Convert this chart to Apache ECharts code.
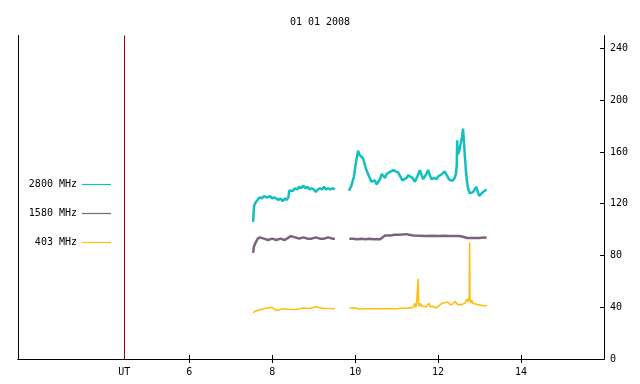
<!DOCTYPE html>
<html>
<head>
<meta charset="utf-8">
<script src="https://cdn.jsdelivr.net/npm/echarts@6/dist/echarts.min.js"></script>
<style>
  html, body { margin: 0; padding: 0; background: #fff; }
  #main { width: 640px; height: 384px; }
</style>
</head>
<body>
<div id="main"></div>
<script>
var FONT = '"DejaVu Sans Mono", monospace';
var UT_MARK = 4.43; // red marker line, labelled UT

var xTicks = [6, 8, 10, 12, 14];
var yTicks = [0, 40, 80, 120, 160, 200, 240];

// [hour, flux] ; '-' breaks the line (data gap)
var f2800 = [
  [7.54, 106], [7.56, 118], [7.60, 121], [7.65, 123], [7.70, 125], [7.75, 124],
  [7.80, 126], [7.85, 125], [7.90, 125], [7.95, 126], [8.00, 124], [8.05, 125],
  [8.10, 124], [8.15, 123], [8.20, 124], [8.25, 122], [8.30, 124], [8.35, 123],
  [8.39, 125], [8.41, 130], [8.45, 131], [8.50, 130], [8.55, 132], [8.60, 131],
  [8.65, 133], [8.70, 132], [8.75, 134], [8.80, 132], [8.85, 133], [8.90, 131],
  [8.95, 132], [9.00, 131], [9.05, 129], [9.10, 131], [9.15, 132], [9.20, 131],
  [9.25, 133], [9.30, 131], [9.35, 132], [9.40, 131], [9.45, 132], [9.51, 131],
  [9.68, '-'],
  [9.85, 130], [9.91, 134], [9.97, 141], [10.02, 152], [10.07, 161], [10.10, 158],
  [10.13, 157], [10.19, 155], [10.26, 147], [10.31, 143], [10.35, 140], [10.39, 137],
  [10.43, 136], [10.47, 138], [10.52, 135], [10.56, 137], [10.60, 139], [10.64, 143],
  [10.68, 142], [10.72, 140], [10.76, 143], [10.80, 144], [10.86, 145], [10.92, 146],
  [10.98, 145], [11.04, 144], [11.09, 141], [11.14, 138], [11.19, 139], [11.24, 140],
  [11.28, 142], [11.32, 143], [11.38, 140], [11.44, 137], [11.50, 141], [11.56, 146],
  [11.60, 142], [11.64, 139], [11.70, 142], [11.76, 146], [11.80, 142], [11.84, 139],
  [11.90, 140], [11.96, 139], [12.00, 141], [12.04, 142], [12.10, 143], [12.16, 145],
  [12.21, 142], [12.26, 139], [12.31, 138], [12.36, 138], [12.40, 140], [12.43, 143],
  [12.45, 150], [12.46, 169], [12.47, 158], [12.51, 161], [12.56, 169], [12.58, 172],
  [12.60, 178], [12.62, 170], [12.64, 159], [12.67, 146], [12.70, 136], [12.73, 131],
  [12.76, 128], [12.80, 127], [12.84, 129], [12.88, 131], [12.92, 133], [12.95, 130],
  [12.99, 126], [13.03, 127], [13.08, 129], [13.12, 130], [13.17, 131]
];

var f1580 = [
  [7.54, 82], [7.56, 87], [7.60, 90], [7.65, 93], [7.70, 94], [7.80, 93],
  [7.90, 92], [8.00, 93], [8.10, 92], [8.20, 93], [8.30, 92], [8.40, 94],
  [8.45, 95], [8.55, 94], [8.65, 93], [8.75, 94], [8.85, 93], [8.95, 93],
  [9.05, 94], [9.15, 93], [9.25, 93], [9.35, 94], [9.45, 93], [9.51, 93],
  [9.68, '-'],
  [9.86, 93], [9.95, 93], [10.05, 92.5], [10.15, 93], [10.25, 92.5], [10.35, 93],
  [10.45, 92.5], [10.60, 92.6], [10.72, 95.5], [10.85, 95.5], [10.95, 96], [11.07, 96],
  [11.24, 96.5], [11.30, 96], [11.40, 95.5], [11.56, 95.3], [11.70, 95], [11.85, 95.3],
  [12.00, 95], [12.15, 95.2], [12.30, 95], [12.52, 95], [12.60, 94.5], [12.70, 93.5],
  [12.85, 93.5], [13.00, 93.5], [13.10, 94], [13.17, 93.5]
];

var f403 = [
  [7.54, 36], [7.60, 37], [7.70, 38], [7.82, 39], [7.98, 40], [8.10, 37.5],
  [8.26, 38.8], [8.40, 38.5], [8.58, 38.3], [8.74, 39.4], [8.90, 39], [9.06, 40.4],
  [9.22, 39], [9.35, 39], [9.51, 38.8],
  [9.68, '-'],
  [9.86, 39.4], [10.00, 39.3], [10.12, 38.6], [10.30, 38.8], [10.45, 38.8], [10.60, 38.8],
  [10.80, 38.9], [11.00, 38.8], [11.08, 39.2], [11.25, 39.3], [11.40, 39.9], [11.44, 43],
  [11.46, 40], [11.48, 42], [11.51, 41], [11.52, 62], [11.53, 43], [11.55, 40.5],
  [11.57, 43], [11.60, 41], [11.63, 42.5], [11.66, 40.5], [11.69, 42], [11.72, 40.5],
  [11.75, 41.5], [11.78, 43], [11.81, 40.5], [11.84, 41.7], [11.88, 40.5], [11.92, 40],
  [11.96, 39.5], [12.00, 40.5], [12.03, 41.5], [12.06, 41], [12.09, 43], [12.12, 41.5],
  [12.16, 43.5], [12.20, 42], [12.24, 44], [12.28, 42], [12.32, 43.5], [12.36, 42.5],
  [12.40, 44.5], [12.44, 43], [12.48, 42], [12.52, 41], [12.56, 42], [12.60, 41.5],
  [12.64, 43], [12.68, 44.2], [12.70, 46.5], [12.72, 44], [12.74, 47], [12.75, 45],
  [12.76, 90], [12.77, 46], [12.79, 43.5], [12.81, 45.5], [12.84, 43], [12.87, 44.5],
  [12.90, 42.5], [12.93, 44], [12.96, 42], [13.00, 43], [13.04, 41.5], [13.08, 42.5],
  [13.12, 41], [13.17, 41.5]
];

var names = ['2800 MHz', '1580 MHz', '403 MHz'];
var colors = ['#10c0c0', '#7e6080', '#ffbe10'];

var chart = echarts.init(document.getElementById('main'), null, { renderer: 'canvas' });

function lineSeries(name, data, color, width) {
  return {
    name: name,
    type: 'line',
    data: data,
    showSymbol: false,
    symbol: 'none',
    connectNulls: false,
    animation: false,
    lineStyle: { color: color, width: width }
  };
}

// legend drawn by hand: right-aligned text, short line sample
var legendY = [184, 213, 242];
var legendItems = [];
names.forEach(function (n, i) {
  legendItems.push({
    type: 'text', x: 77, y: legendY[i],
    style: { text: n, font: '10px ' + FONT, fill: '#000', textAlign: 'right', textVerticalAlign: 'middle' }
  });
  legendItems.push({
    type: 'line', shape: { x1: 82, y1: legendY[i] + 0.5, x2: 111, y2: legendY[i] + 0.5 },
    style: { stroke: colors[i], lineWidth: 1.2 }
  });
});

var series = [
  lineSeries(names[0], f2800, colors[0], 2.5),
  lineSeries(names[1], f1580, colors[1], 2.5),
  lineSeries(names[2], f403, colors[2], 1.6)
];
series[0].markLine = {
  silent: true,
  symbol: 'none',
  label: { show: false },
  lineStyle: { color: '#a00000', width: 1, type: 'solid' },
  data: [{ xAxis: UT_MARK }]
};

chart.setOption({
  backgroundColor: '#fff',
  animation: false,
  title: {
    text: '01 01 2008',
    left: 'center',
    top: 12,
    textStyle: { fontFamily: FONT, fontSize: 10, fontWeight: 'normal', color: '#000' }
  },
  grid: { left: 18, right: 36, top: 35.5, bottom: 25 },
  xAxis: [{
    type: 'value',
    position: 'bottom',
    min: 1.87,
    max: 16,
    splitLine: { show: false },
    axisLine: { lineStyle: { color: '#000', width: 1 } },
    axisTick: { inside: true, length: 4, customValues: xTicks, lineStyle: { color: '#000' } },
    axisLabel: {
      customValues: [UT_MARK].concat(xTicks),
      margin: 8,
      fontFamily: FONT, fontSize: 10, color: '#000',
      formatter: function (v) { return Math.abs(v - UT_MARK) < 0.001 ? 'UT' : String(v); }
    }
  }, {
    type: 'value',
    position: 'top',
    min: 1.87,
    max: 16,
    splitLine: { show: false },
    axisLine: { lineStyle: { color: '#000', width: 1 } },
    axisTick: { inside: true, length: 4, customValues: xTicks, lineStyle: { color: '#000' } },
    axisLabel: { show: false }
  }],
  yAxis: [{
    type: 'value',
    position: 'right',
    min: 0,
    max: 250,
    splitLine: { show: false },
    axisLine: { show: true, lineStyle: { color: '#000', width: 1 } },
    axisTick: { inside: true, length: 4, customValues: yTicks, lineStyle: { color: '#000' } },
    axisLabel: { customValues: yTicks, margin: 6, fontFamily: FONT, fontSize: 10, color: '#000' }
  }, {
    type: 'value',
    position: 'left',
    min: 0,
    max: 250,
    splitLine: { show: false },
    axisLine: { show: true, lineStyle: { color: '#000', width: 1 } },
    axisTick: { show: false },
    axisLabel: { show: false }
  }],
  graphic: legendItems,
  series: series
});
</script>
</body>
</html>
